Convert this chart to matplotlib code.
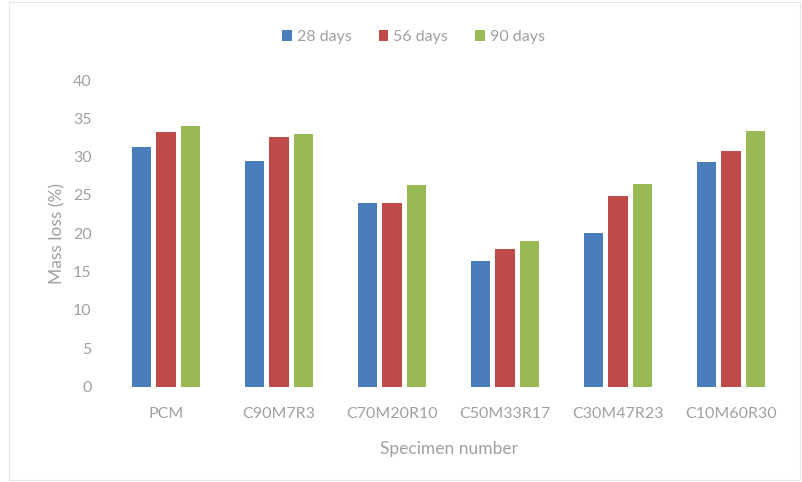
import numpy as np
import matplotlib.pyplot as plt

specimens = ["PCM", "C90M7R3", "C70M20R10", "C50M33R17", "C30M47R23", "C10M60R30"]
series_names = ["28 days", "56 days", "90 days"]
loss_28 = [31.2, 29.4, 24.0, 16.4, 20.1, 29.3]
loss_56 = [33.2, 32.5, 23.9, 18.0, 24.9, 30.7]
loss_90 = [34.0, 32.9, 26.3, 19.0, 26.4, 33.3]
colors = ["#4a7ebb", "#be4b48", "#98b954"]

plt.rcParams["font.family"] = ["Lato", "DejaVu Sans"]
text_grey = "#a0a0a0"

fig = plt.figure(figsize=(8.03, 4.82), dpi=100)
ax = fig.add_axes([0.1364, 0.198, 0.8443, 0.636])

x = np.arange(len(specimens))
bar_width = 0.17
step = 0.22
for i, (name, vals) in enumerate(zip(series_names, [loss_28, loss_56, loss_90])):
    ax.bar(x + (i - 1) * step, vals, width=bar_width, color=colors[i], label=name)

ax.set_xlim(-0.5, len(specimens) - 0.5)
ax.set_ylim(0, 40)
ax.set_yticks(range(0, 41, 5))
ax.set_xticks(x)
ax.set_xticklabels(specimens)
ax.tick_params(axis="both", length=0, colors=text_grey, labelsize=11.5)
ax.tick_params(axis="y", pad=13)
ax.tick_params(axis="x", pad=15)
for side in ax.spines.values():
    side.set_visible(False)

ax.set_xlabel("Specimen number", color=text_grey, fontsize=12.5, labelpad=14)
ax.set_ylabel("Mass loss (%)", color=text_grey, fontsize=12.5, labelpad=5)

fig.legend(*ax.get_legend_handles_labels(), loc="center", bbox_to_anchor=(0.515, 0.923),
           ncol=3, frameon=False, fontsize=11.5, handlelength=0.6, handleheight=0.6,
           handletextpad=0.3, columnspacing=1.7, labelcolor=text_grey)

# faint chart frame
fig.patches.append(plt.Rectangle((0.011, 0.005), 0.985, 0.99, transform=fig.transFigure,
                                 fill=False, edgecolor="#e6e6e6", linewidth=0.8))

fig.savefig("out.png", dpi=100)
